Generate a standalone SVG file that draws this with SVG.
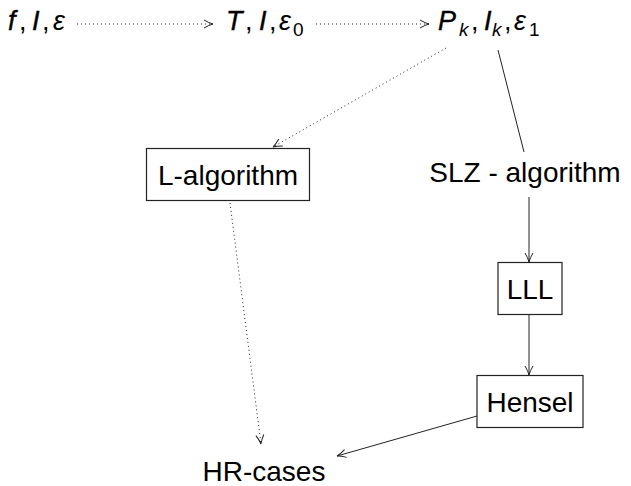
<svg xmlns="http://www.w3.org/2000/svg" width="631" height="486" viewBox="0 0 631 486">
<defs>
<marker id="arr" markerUnits="userSpaceOnUse" markerWidth="14" markerHeight="12" viewBox="-10 -6 12 12" refX="0" refY="0" orient="auto">
<path d="M -9 -4 Q -4 -1 0 0 Q -4 1 -9 4" fill="none" stroke="#222" stroke-width="1"/>
</marker>
<style>
.t{font-family:"Liberation Sans",Arial,sans-serif;font-size:28px;fill:#000}
.m{font-family:"Liberation Sans",Arial,sans-serif;font-size:27px;fill:#000}
.i{font-style:italic;stroke:#000;stroke-width:0.4}
.e{font-style:italic}
.s{font-size:19px}
.box{fill:#fff;stroke:#222;stroke-width:1.2}
.sol{stroke:#222;stroke-width:1;fill:none}
.dot{stroke:#222;stroke-width:1;fill:none;stroke-dasharray:1 3}
</style>
</defs>
<g id="connectors">
<line class="dot" x1="77" y1="24" x2="213" y2="24" marker-end="url(#arr)"/>
<line class="dot" x1="316" y1="24" x2="429" y2="24" marker-end="url(#arr)"/>
<line class="dot" x1="446" y1="48" x2="273" y2="147" marker-end="url(#arr)"/>
<line class="sol" x1="498" y1="50" x2="524" y2="152"/>
<line class="sol" x1="529" y1="197" x2="529" y2="262" marker-end="url(#arr)"/>
<line class="sol" x1="529" y1="314" x2="529" y2="375" marker-end="url(#arr)"/>
<line class="dot" x1="230" y1="203" x2="261" y2="444" marker-end="url(#arr)"/>
<line class="sol" x1="477" y1="416" x2="337" y2="456" marker-end="url(#arr)"/>
</g>
<g id="n1">
<text class="m" y="30"><tspan x="8" class="i">f</tspan><tspan x="19">,</tspan><tspan x="32" class="i">I</tspan><tspan x="42">,</tspan><tspan x="53" class="e">ε</tspan></text>
</g>
<g id="n2">
<text class="m" y="30"><tspan x="226" class="i">T</tspan><tspan x="245">,</tspan><tspan x="259" class="i">I</tspan><tspan x="269">,</tspan><tspan x="279" class="e">ε</tspan><tspan x="293" y="36" class="s">0</tspan></text>
</g>
<g id="n3">
<text class="m" y="30"><tspan x="438" class="i">P</tspan><tspan x="459" y="36" class="s e">k</tspan><tspan x="471" y="30">,</tspan><tspan x="484" class="i">I</tspan><tspan x="492" y="36" class="s e">k</tspan><tspan x="504" y="30">,</tspan><tspan x="514" class="e">ε</tspan><tspan x="529" y="36" class="s">1</tspan></text>
</g>
<g id="lalg">
<rect class="box" x="146.5" y="148.5" width="163" height="52"/>
<text class="t" x="228" y="185" text-anchor="middle">L-algorithm</text>
</g>
<g id="slz">
<text class="t" x="525" y="182" text-anchor="middle">SLZ - algorithm</text>
</g>
<g id="lll">
<rect class="box" x="498" y="262.5" width="64" height="52"/>
<text class="t" x="530" y="299" text-anchor="middle">LLL</text>
</g>
<g id="hensel">
<rect class="box" x="477" y="375.5" width="106" height="52"/>
<text class="t" x="530" y="412" text-anchor="middle">Hensel</text>
</g>
<g id="hr">
<text class="t" x="264" y="481" text-anchor="middle">HR-cases</text>
</g>
</svg>
